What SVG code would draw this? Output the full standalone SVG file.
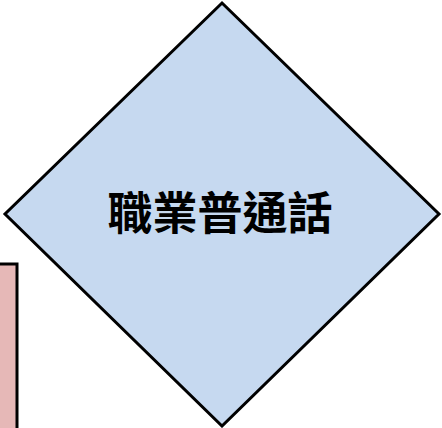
<svg xmlns="http://www.w3.org/2000/svg" width="442" height="428" viewBox="0 0 442 428">
<style>
.shape{stroke:#000;stroke-width:3}
.lbl{font-family:"Noto Sans CJK TC","Noto Sans CJK SC",sans-serif;font-weight:bold;font-size:45px;fill:#000;text-anchor:middle;dominant-baseline:central}
</style>
<rect width="442" height="428" fill="#fff"/>
<g id="connectors"></g>
<g id="node-left">
<rect class="shape" x="-20" y="264" width="37" height="180" fill="#e6b8b7"/>
</g>
<g id="node-diamond">
<polygon class="shape" points="222,3 439,214 222,426 5,214" fill="#c6d9f0"/>
<text class="lbl" x="220" y="210">職業普通話</text>
</g>
</svg>
